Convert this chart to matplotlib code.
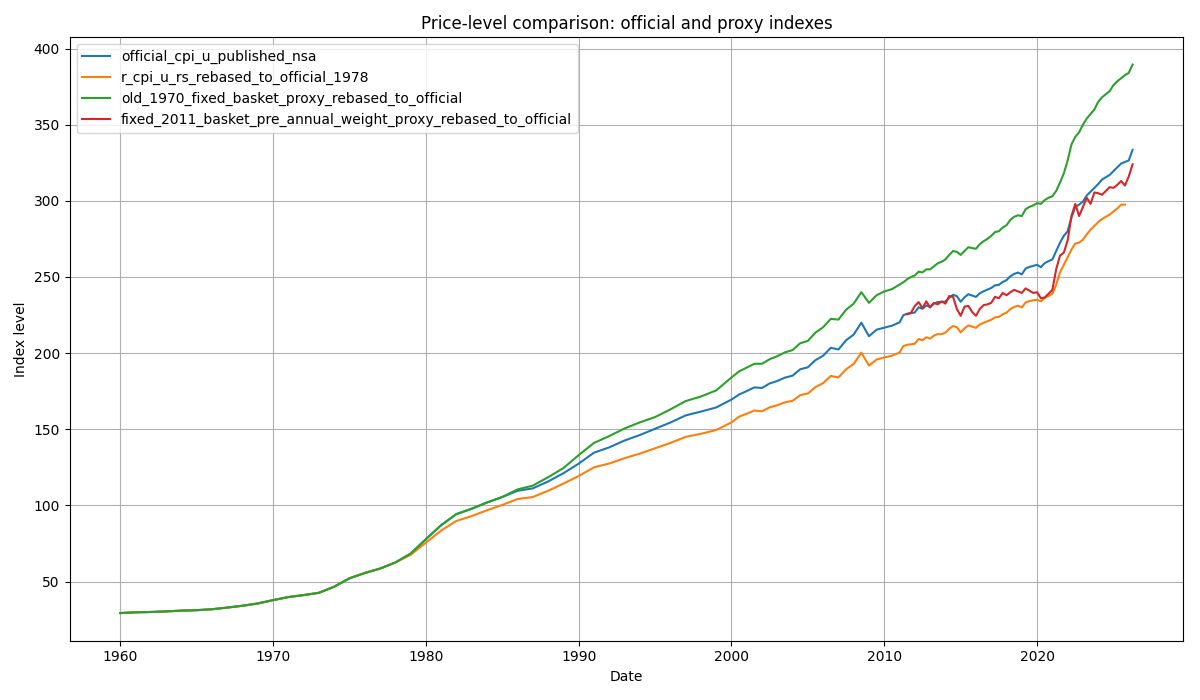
import numpy as np
import matplotlib
matplotlib.use("Agg")
import matplotlib.pyplot as plt

# dates: yearly to 1999, half-yearly to 2011, quarterly after that
dates = ([float(y) for y in range(1960, 2000)]
         + [2000 + 0.5 * i for i in range(23)]
         + [2011.25 + 0.25 * i for i in range(61)])

official = [
    # 1960-1999
    29.3, 29.8, 30.0, 30.4, 30.9, 31.2, 31.8, 32.9, 34.1, 35.6,
    37.8, 39.8, 41.1, 42.6, 46.6, 52.1, 55.6, 58.5, 62.5, 68.3,
    77.8, 87.0, 94.3, 97.8, 101.9, 105.5, 109.6, 111.2, 115.7, 121.1,
    127.4, 134.6, 138.1, 142.6, 146.2, 150.3, 154.4, 159.1, 161.6, 164.3,
    # 2000-2011 half-yearly
    169.5, 172.8, 175.1, 177.5, 177.1, 180.1, 181.7, 183.9, 185.2, 189.4,
    190.7, 195.4, 198.3, 203.5, 202.4, 208.4, 212.2, 220.0, 211.1, 215.4,
    216.7, 218.0, 220.2,
    # 2011.25-2026.25 quarterly
    224.9, 225.9, 226.2,
    226.7, 230.1, 229.1, 231.3,
    230.3, 232.5, 233.6, 233.5,
    233.9, 236.3, 238.3, 237.4,
    233.7, 236.6, 238.7, 237.8,
    236.9, 239.3, 240.6, 241.7,
    242.8, 244.5, 244.8, 246.7,
    247.9, 250.5, 252.0, 252.9,
    251.7, 255.5, 256.6, 257.3,
    258.0, 256.4, 259.1, 260.4,
    261.5, 267.0, 272.5, 277.0,
    280.0, 289.0, 296.0, 297.5,
    299.5, 303.5, 306.0, 308.5,
    311.0, 314.0, 315.5, 317.0,
    319.5, 322.0, 324.5, 325.5,
    326.5, 333.5,
]

r_cpi_rs = official[:18] + [
    62.5, 67.5, 75.5, 83.5, 89.8, 93.0, 96.8, 100.3, 104.2, 105.5,
    109.6, 114.3, 119.3, 125.0, 127.5, 131.0, 134.0, 137.5, 141.0, 145.0,
    147.0, 149.5,
    154.5, 158.3, 160.2, 162.3, 161.8, 164.4, 165.8, 167.7, 168.7, 172.4,
    173.5, 177.7, 180.3, 185.0, 184.0, 189.4, 192.9, 200.3, 191.8, 195.8,
    197.2, 198.3, 200.4,
    204.6, 205.5, 205.8,
    206.2, 209.3, 208.4, 210.4,
    209.5, 211.5, 212.5, 212.4,
    213.5, 216.0, 217.8, 217.0,
    213.6, 216.2, 218.2, 217.4,
    216.6, 218.8, 219.9, 220.9,
    221.9, 223.5, 223.8, 225.5,
    226.6, 228.9, 230.3, 231.1,
    230.0, 233.3, 234.2, 234.7,
    235.0, 234.0, 236.3, 237.5,
    239.0, 245.0, 253.0, 258.0,
    263.0, 268.0, 272.0, 272.5,
    274.5, 278.0, 281.0, 283.5,
    286.0, 288.0, 289.5, 291.0,
    293.0, 295.0, 297.5, 297.5,
    None, None,
]

old_1970 = official[:26] + [
    110.5, 113.0, 118.5, 124.5, 133.0, 141.0, 145.5, 150.5, 154.5, 158.0,
    163.0, 168.5, 171.5, 175.5,
    184.0, 188.0, 190.5, 193.0, 193.0, 196.0, 198.0, 200.5, 202.0, 206.5,
    208.0, 213.5, 217.0, 222.5, 222.0, 228.5, 232.5, 240.0, 233.0, 238.0,
    240.5, 242.0, 245.0,
    246.5, 248.5, 250.0,
    251.0, 253.5, 253.0, 255.0,
    255.0, 257.0, 259.0, 260.0,
    261.5, 264.5, 267.0, 266.5,
    264.5, 267.0, 269.5, 269.0,
    268.5, 271.5, 273.5, 275.0,
    277.0, 279.5, 280.0, 282.5,
    284.0, 287.5, 289.5, 290.5,
    290.0, 294.5, 296.0, 297.0,
    298.5, 298.0, 300.5, 302.0,
    303.0, 306.5, 312.0, 318.0,
    326.5, 337.0, 342.0, 345.0,
    350.0, 354.0, 357.0, 360.0,
    365.0, 368.0, 370.0, 372.0,
    376.0, 378.5, 380.5, 382.5,
    384.0, 389.5,
]

fixed_2011 = [None] * 64 + [
    225.5, 226.5,
    231.0, 233.5, 229.5, 234.0,
    230.0, 233.0, 232.0, 234.0,
    232.5, 237.5, 237.0, 229.0,
    224.5, 230.5, 231.0, 227.0,
    224.5, 229.0, 231.5, 232.0,
    233.0, 237.0, 236.0, 239.5,
    238.0, 240.0, 241.5, 240.5,
    239.5, 242.5, 241.0, 239.5,
    240.0, 236.0, 236.5, 239.0,
    241.5, 255.0, 264.0, 266.0,
    274.0, 290.0, 298.0, 290.0,
    296.0, 302.0, 298.0, 305.5,
    305.0, 304.0, 306.5, 309.0,
    308.5, 310.5, 313.0, 310.0,
    316.0, 324.0,
]

series = {
    "official_cpi_u_published_nsa": official,
    "r_cpi_u_rs_rebased_to_official_1978": r_cpi_rs,
    "old_1970_fixed_basket_proxy_rebased_to_official": old_1970,
    "fixed_2011_basket_pre_annual_weight_proxy_rebased_to_official": fixed_2011,
}

fig, ax = plt.subplots(figsize=(12, 7), dpi=100)
for name, vals in series.items():
    ax.plot(dates, np.array(vals, dtype=float), label=name)

ax.set_title("Price-level comparison: official and proxy indexes")
ax.set_xlabel("Date")
ax.set_ylabel("Index level")
ax.set_xticks([1960, 1970, 1980, 1990, 2000, 2010, 2020])
ax.grid(True)
ax.legend(loc="upper left")
fig.subplots_adjust(left=0.058, right=0.986, top=0.947, bottom=0.085)
fig.savefig("out.png")
